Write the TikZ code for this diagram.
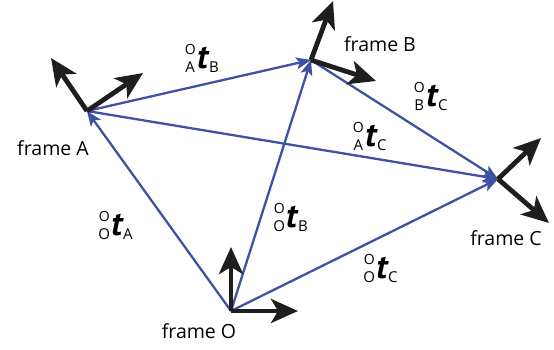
\documentclass[tikz,border=0pt]{standalone}
\usepackage{fontspec}
\setmainfont{Open Sans}
\newfontfamily\tfont{PT Sans}
\usetikzlibrary{arrows.meta}
\definecolor{vblue}{RGB}{62,82,164}
\definecolor{axblack}{RGB}{30,30,30}
\newcommand{\tlab}[3]{\raisebox{-3.5pt}{\fontsize{15}{15}\selectfont\makebox[10pt]{#2}}\llap{\raisebox{14.5pt}{\fontsize{14}{14}\selectfont\makebox[10pt]{#1}}}\hspace{2pt}{\tfont\fontsize{34}{34}\selectfont\bfseries\itshape t}\hspace{1pt}\raisebox{-3.5pt}{\fontsize{15}{15}\selectfont #3}}
\tikzset{
  vec/.style={draw=vblue, line width=2.3pt, -{Stealth[length=15pt,width=12pt,inset=3.5pt]}},
  axis/.style={draw=axblack, line width=4.8pt, -{Stealth[length=27pt,width=24pt,inset=7pt]}},
  framelab/.style={font=\fontsize{19.5}{21}\selectfont, inner sep=0pt},
  vlab/.style={inner sep=0pt}
}
\begin{document}
\begin{tikzpicture}[x=1pt,y=-1pt]
\useasboundingbox (0,0) rectangle (554,349);
\coordinate (O) at (231,311);
\coordinate (A) at (87,111);
\coordinate (B) at (311,60);
\coordinate (C) at (498,179);
\coordinate (Ox) at (298,311);
\coordinate (Oy) at (231,247);
\coordinate (Ax) at (143,73);
\coordinate (Ay) at (51,58);
\coordinate (Bx) at (376,81);
\coordinate (By) at (333,1);
\coordinate (Cx) at (541,138);
\coordinate (Cy) at (549,223);
% blue vectors
\draw[vec] (O) -- (A);
\draw[vec] (O) -- (B);
\draw[vec] (O) -- (C);
\draw[vec] (A) -- (B);
\draw[vec] (A) -- (C);
\draw[vec] (B) -- (C);
% axes
\draw[axis] (O) -- (Ox);
\draw[axis] (O) -- (Oy);
\draw[axis] (A) -- (Ax);
\draw[axis] (A) -- (Ay);
\draw[axis] (B) -- (Bx);
\draw[axis] (B) -- (By);
\draw[axis] (C) -- (Cx);
\draw[axis] (C) -- (Cy);
% frame labels
\node[framelab] (lA) at (53,148) {frame A};
\node[framelab] (lB) at (380,44) {frame B};
\node[framelab] (lC) at (506,238) {frame C};
\node[framelab] (lO) at (199,331) {frame O};
% vector labels
\node[vlab] (tAB) at (202,58) {\tlab{O}{A}{B}};
\node[vlab] (tBC) at (431,96) {\tlab{O}{B}{C}};
\node[vlab] (tAC) at (370,136) {\tlab{O}{A}{C}};
\node[vlab] (tOA) at (116,225) {\tlab{O}{O}{A}};
\node[vlab] (tOB) at (291,217) {\tlab{O}{O}{B}};
\node[vlab] (tOC) at (381,268) {\tlab{O}{O}{C}};
\end{tikzpicture}
\end{document}
